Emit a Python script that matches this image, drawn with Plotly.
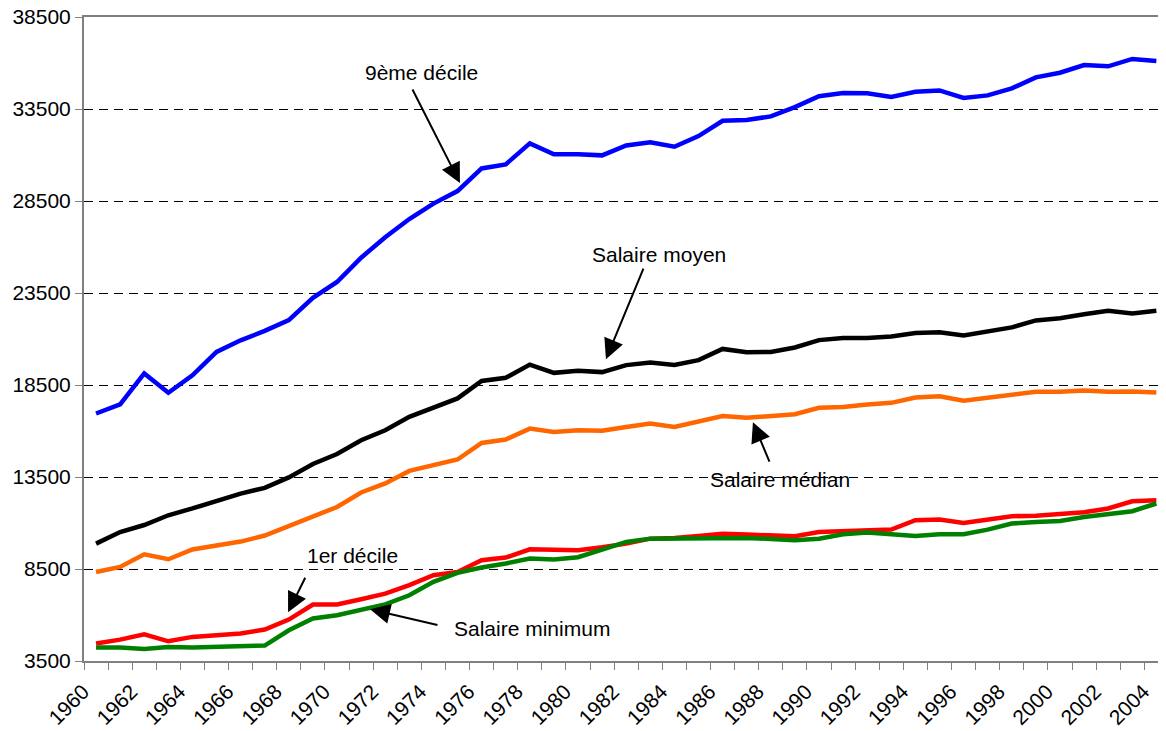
import plotly.graph_objects as go

years = list(range(1960, 2005))

decile9 = [16950, 17450, 19130, 18080, 19030, 20300, 20930, 21440, 22030, 23240,
           24100, 25420, 26530, 27520, 28360, 29040, 30270, 30490, 31630, 31040,
           31040, 30980, 31520, 31690, 31450, 32030, 32860, 32900, 33100, 33600,
           34190, 34370, 34350, 34150, 34440, 34510, 34100, 34240, 34620, 35220,
           35470, 35890, 35820, 36220, 36110]

salaire_moyen = [9880, 10510, 10890, 11420, 11790, 12180, 12600, 12910, 13480, 14210,
                 14750, 15500, 16040, 16770, 17260, 17770, 18720, 18890, 19610, 19160,
                 19270, 19200, 19580, 19720, 19590, 19850, 20460, 20280, 20300, 20540,
                 20940, 21050, 21060, 21140, 21330, 21370, 21190, 21440, 21630, 22010,
                 22130, 22350, 22530, 22390, 22530]

salaire_median = [8340, 8610, 9300, 9030, 9560, 9750, 9990, 10320, 10820, 11370,
                  11870, 12660, 13150, 13830, 14140, 14450, 15350, 15540, 16130, 15950,
                  16040, 16010, 16220, 16410, 16220, 16500, 16810, 16720, 16820, 16910,
                  17260, 17310, 17440, 17530, 17820, 17890, 17640, 17800, 18000, 18130,
                  18130, 18200, 18130, 18150, 18090]

decile1 = [4450, 4660, 4950, 4570, 4810, 4900, 4990, 5210, 5750, 6570,
           6570, 6860, 7160, 7620, 8160, 8340, 8980, 9120, 9570, 9550,
           9520, 9680, 9880, 10150, 10190, 10300, 10420, 10370, 10320, 10280,
           10510, 10570, 10640, 10640, 11150, 11190, 11000, 11200, 11370, 11390,
           11460, 11590, 11790, 12180, 12240]

salaire_minimum = [4230, 4230, 4150, 4260, 4230, 4260, 4320, 4340, 5170, 5810,
                   5990, 6260, 6580, 7070, 7800, 8290, 8580, 8800, 9070, 9020,
                   9140, 9550, 9970, 10150, 10170, 10190, 10210, 10190, 10130, 10060,
                   10150, 10390, 10480, 10370, 10300, 10390, 10390, 10640, 10970, 11060,
                   11110, 11330, 11510, 11640, 12060]

y_ticks = [3500, 8500, 13500, 18500, 23500, 28500, 33500, 38500]
x_labels = list(range(1960, 2005, 2))

# annotations: (text, text_x, text_y, tail_x, tail_y, head_x, head_y)
labels = [
    ("9ème décile", 1973.49, 35510, 1973.10, 34640, 1975.10, 29475),
    ("Salaire moyen", 1983.36, 25614, 1982.74, 24907, 1981.16, 19906),
    ("Salaire médian", 1988.38, 13381, 1987.97, 14251, 1987.26, 16480),
    ("1er décile", 1970.64, 9249, 1968.71, 8107, 1967.97, 6150),
    ("Salaire minimum", 1978.09, 5280, 1974.23, 5443, 1971.37, 6313),
]

FONT = "Liberation Sans, Arial, sans-serif"

fig = go.Figure()
series = [
    (decile9, "#0000FF", "9ème décile"),
    (salaire_moyen, "#000000", "Salaire moyen"),
    (salaire_median, "#FF6600", "Salaire médian"),
    (decile1, "#FF0000", "1er décile"),
    (salaire_minimum, "#008000", "Salaire minimum"),
]
for vals, col, name in series:
    fig.add_trace(go.Scatter(x=years, y=vals, mode="lines", name=name,
                             line=dict(color=col, width=4.5), cliponaxis=False))

annotations = []
for text, tx, ty, ax, ay, hx, hy in labels:
    annotations.append(dict(x=hx, y=hy, ax=ax, ay=ay, xref="x", yref="y",
                            axref="x", ayref="y", text="", showarrow=True,
                            arrowhead=2, arrowsize=2.0, arrowwidth=2,
                            arrowcolor="black", standoff=0, startstandoff=0))
    annotations.append(dict(x=tx, y=ty, xref="x", yref="y", text=text,
                            showarrow=False, xanchor="center", yanchor="middle",
                            font=dict(family=FONT, size=21, color="black")))

minor_vals = [y - 0.5 for y in range(1960, 2006)]

# The page body adds an 8px offset, so the figure is 8px smaller on each side
fig.update_layout(
    width=1158, height=723, autosize=False,
    margin=dict(l=76, r=0, t=9, b=70, autoexpand=False),
    paper_bgcolor="white", plot_bgcolor="white",
    showlegend=False,
    font=dict(family=FONT, size=21, color="black"),
    annotations=annotations,
    xaxis=dict(
        range=[1959.5, 2004.4], automargin=False,
        tickvals=x_labels, ticktext=[str(v) for v in x_labels],
        tickangle=-45, ticks="outside", ticklen=8, tickcolor="rgba(0,0,0,0)",
        ticklabelstandoff=0, ticklabelshift=-13, ticklabeloverflow="allow",
        showgrid=False, zeroline=False,
        showline=True, linecolor="#808080", linewidth=2, mirror=True,
        tickfont=dict(family=FONT, size=21, color="black"),
        minor=dict(tickvals=minor_vals, ticks="outside", ticklen=7,
                   tickcolor="#808080", tickwidth=1, showgrid=False),
    ),
    yaxis=dict(
        range=[3500, 38500], automargin=False,
        tickvals=y_ticks, ticktext=[str(v) for v in y_ticks],
        ticks="outside", ticklen=7, tickcolor="#808080", tickwidth=1,
        ticklabeloverflow="allow",
        showgrid=True, gridcolor="#000000", gridwidth=1, griddash="9px,6px",
        zeroline=False,
        showline=True, linecolor="#808080", linewidth=2,
        tickfont=dict(family=FONT, size=21, color="black"),
    ),
)

fig.write_html("out.html")
